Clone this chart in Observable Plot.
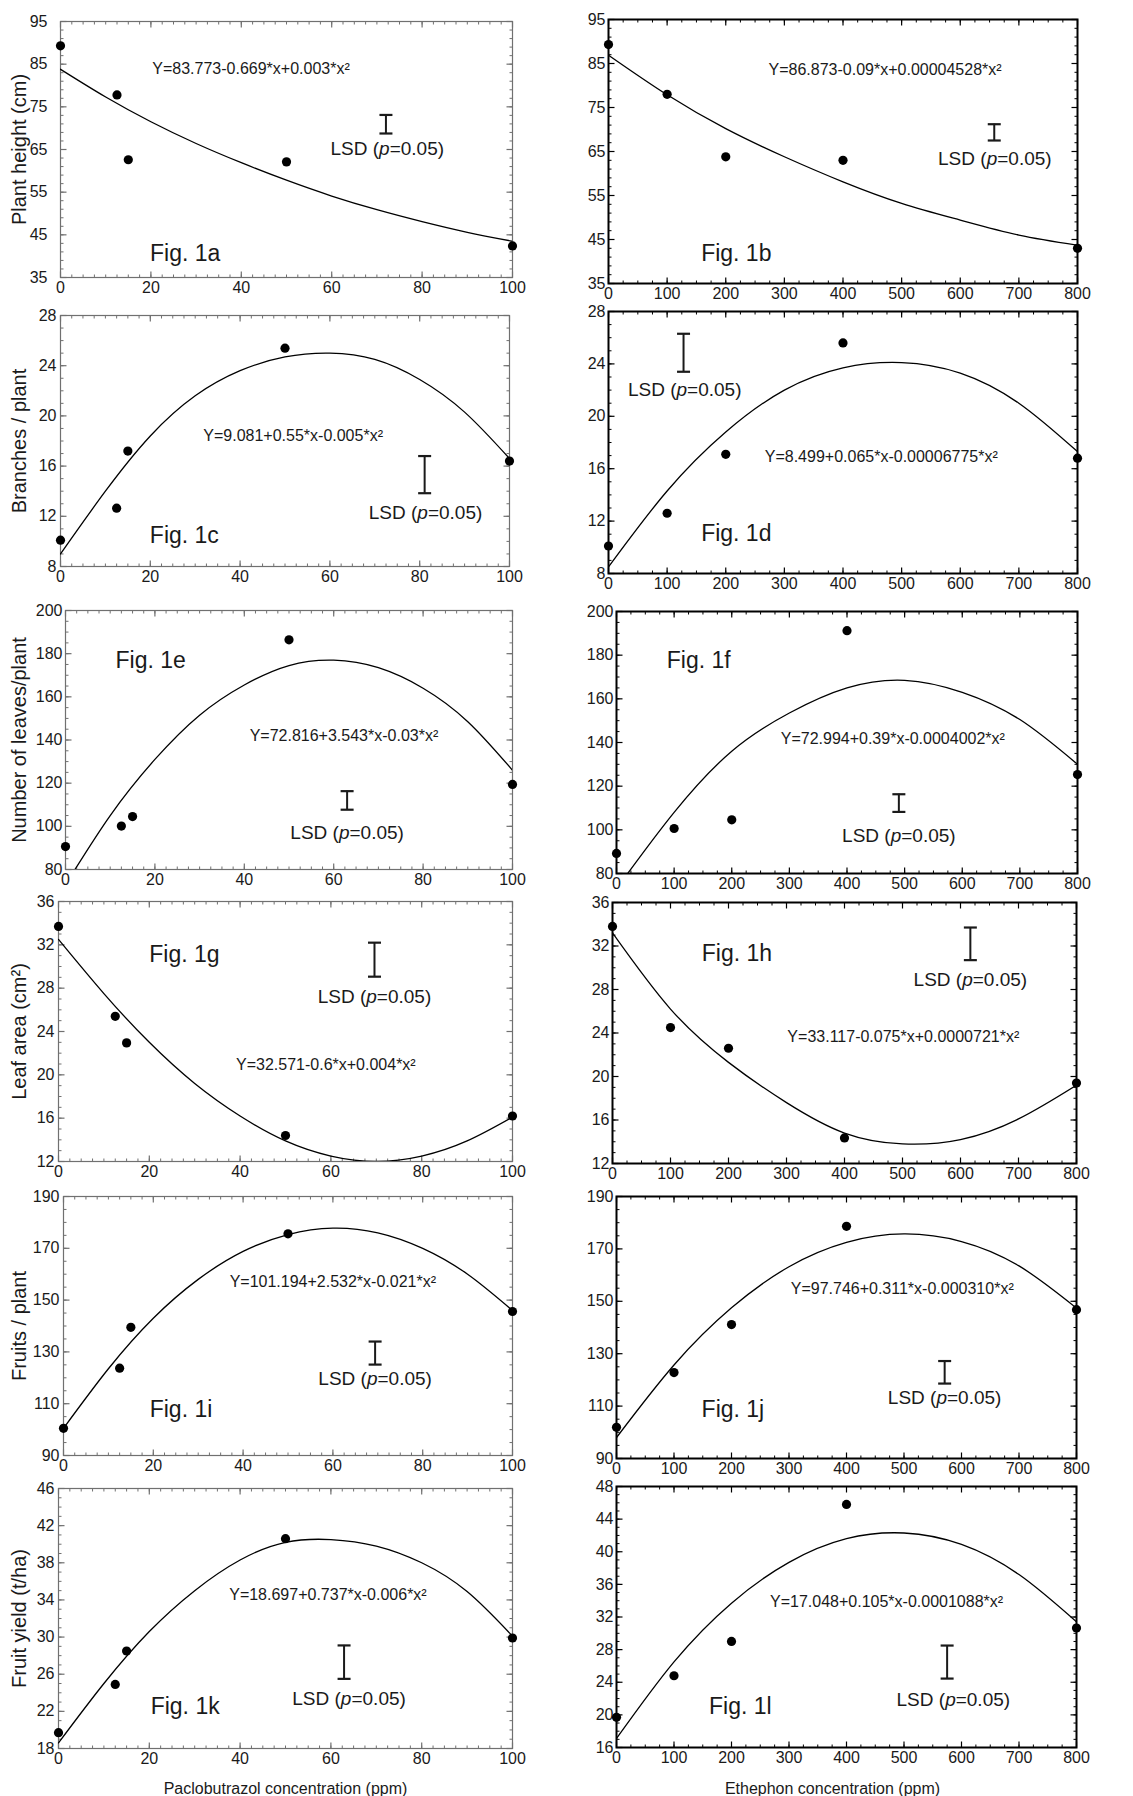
<!DOCTYPE html>
<html><head><meta charset="utf-8">
<script src="https://cdn.jsdelivr.net/npm/d3@7"></script>
<script src="https://cdn.jsdelivr.net/npm/@observablehq/plot@0.6"></script>
<style>
body{margin:0;background:#fff;}
#root{position:relative;width:1133px;height:1796px;overflow:hidden;}
.panel{position:absolute;}
</style></head><body><div id="root"></div>
<script>
// ---------- DATA ----------
const pacloX = [0, 12.5, 15, 50, 100];
const etheX = [0, 100, 200, 400, 800];
const pacloCurveX = [0, 10, 20, 30, 40, 50, 60, 70, 80, 90, 100];
const etheCurveX = [0, 100, 200, 300, 400, 500, 600, 700, 800];
const pacloTicks = [0, 20, 40, 60, 80, 100];
const etheTicks = [0, 100, 200, 300, 400, 500, 600, 700, 800];

// observed means
const heightPaclo = [89.3, 77.8, 62.6, 62.1, 42.4];
const heightEthe = [89.3, 78.0, 63.8, 63.0, 43.0];
const branchesPaclo = [10.1, 12.65, 17.2, 25.4, 16.4];
const branchesEthe = [10.1, 12.6, 17.1, 25.6, 16.8];
const leavesPaclo = [90.6, 100.1, 104.5, 186.4, 119.4];
const leavesEthe = [89.2, 100.6, 104.6, 191.2, 125.3];
const leafAreaPaclo = [33.7, 25.4, 22.95, 14.4, 16.2];
const leafAreaEthe = [33.8, 24.5, 22.6, 14.35, 19.4];
const fruitsPaclo = [100.5, 123.7, 139.5, 175.6, 145.6];
const fruitsEthe = [101.9, 122.8, 141.1, 178.6, 146.8];
const yieldPaclo = [19.7, 24.9, 28.5, 40.6, 29.9];
const yieldEthe = [19.7, 24.8, 29.0, 45.8, 30.65];

// fitted curves
const heightPacloFit = [83.8, 77.3, 71.5, 66.4, 61.9, 57.8, 54.1, 50.9, 48.1, 45.6, 43.5];
const heightEtheFit = [86.9, 77.9, 70.2, 63.8, 58.1, 53.2, 49.4, 46.0, 43.7];
const branchesPacloFit = [9.0, 14.0, 18.4, 21.6, 23.6, 24.7, 25.0, 24.5, 22.9, 20.3, 16.6];
const branchesEtheFit = [8.5, 14.3, 18.8, 22.0, 23.7, 24.1, 23.3, 21.0, 17.3];
const leavesPacloFit = [73, 105, 131, 151.5, 165.5, 174.5, 177, 173.5, 164, 148.5, 126];
const leavesEtheFit = [73, 108, 136, 153.5, 165, 168.5, 163, 150.5, 130];
const leafAreaPacloFit = [32.5, 27.5, 23.0, 19.2, 16.2, 13.9, 12.5, 12.0, 12.5, 13.9, 16.1];
const leafAreaEtheFit = [33.2, 26.2, 21.3, 17.6, 14.8, 13.8, 14.2, 16.1, 19.2];
const fruitsPacloFit = [100.5, 123.5, 143, 158, 168.8, 175.3, 177.8, 176, 170, 160, 146];
const fruitsEtheFit = [98, 125.7, 147.5, 163.2, 172.5, 175.7, 172.8, 163.5, 147.4];
const yieldPacloFit = [18.6, 25.0, 30.6, 35.0, 38.3, 40.2, 40.5, 39.8, 38.0, 34.9, 30.1];
const yieldEtheFit = [17.1, 26.5, 33.7, 38.7, 41.6, 42.3, 40.9, 37.2, 31.4];

// LSD (p=0.05) bars: [low, high]
const lsdLow = [68.75, 67.5, 13.84, 23.4, 107.7, 108.2, 29.06, 30.7, 125.1, 118.6, 25.5, 24.45];
const lsdHigh = [73.1, 71.2, 16.8, 26.3, 116.3, 116.3, 32.2, 33.7, 134, 127.2, 29.1, 28.5];

// y ticks
const heightTicks = [35, 45, 55, 65, 75, 85, 95];
const branchTicks = [8, 12, 16, 20, 24, 28];
const leavesTicks = [80, 100, 120, 140, 160, 180, 200];
const leafAreaTicks = [12, 16, 20, 24, 28, 32, 36];
const fruitsTicks = [90, 110, 130, 150, 170, 190];
const yieldPacloTicks = [18, 22, 26, 30, 34, 38, 42, 46];
const yieldEtheTicks = [16, 20, 24, 28, 32, 36, 40, 44, 48];

// texts
const yTitles = ["Plant height (cm)", "Branches / plant", "Number of leaves/plant", "Leaf area (cm²)", "Fruits / plant", "Fruit yield (t/ha)"];
const xTitles = ["Paclobutrazol concentration (ppm)", "Ethephon concentration (ppm)"];
const figLabels = ["Fig. 1a","Fig. 1b","Fig. 1c","Fig. 1d","Fig. 1e","Fig. 1f","Fig. 1g","Fig. 1h","Fig. 1i","Fig. 1j","Fig. 1k","Fig. 1l"];
const equations = [
  "Y=83.773-0.669*x+0.003*x²",
  "Y=86.873-0.09*x+0.00004528*x²",
  "Y=9.081+0.55*x-0.005*x²",
  "Y=8.499+0.065*x-0.00006775*x²",
  "Y=72.816+3.543*x-0.03*x²",
  "Y=72.994+0.39*x-0.0004002*x²",
  "Y=32.571-0.6*x+0.004*x²",
  "Y=33.117-0.075*x+0.0000721*x²",
  "Y=101.194+2.532*x-0.021*x²",
  "Y=97.746+0.311*x-0.000310*x²",
  "Y=18.697+0.737*x-0.006*x²",
  "Y=17.048+0.105*x-0.0001088*x²"
];
const lsdText = "LSD (p=0.05)";

// ---------- LAYOUT / OPTIONS ----------
const panels = [
  {frame:[60,512,21,277], obs:heightPaclo, fit:heightPacloFit, yDomain:[35,95], yTicks:heightTicks, yMinor:2, yPad:13, eq:[20.3,83.8], lsdX:72, lsdLab:[72.3,65.1], fig:[19.8,40.5]},
  {frame:[608,1077,19,283], obs:heightEthe, fit:heightEtheFit, yDomain:[35,95], yTicks:heightTicks, yMinor:2, eq:[273,83.5], lsdX:658, lsdLab:[659,63.4], fig:[158,41.8]},
  {frame:[60,509,315,566], obs:branchesPaclo, fit:branchesPacloFit, yDomain:[8,28], yTicks:branchTicks, yMinor:1, yPad:4, eq:[31.8,18.4], lsdX:81.1, lsdLab:[81.3,12.3], fig:[19.9,10.5]},
  {frame:[608,1077,311,573], obs:branchesEthe, fit:branchesEtheFit, yDomain:[8,28], yTicks:branchTicks, yMinor:1, eq:[266.5,16.9], lsdX:128, lsdLab:[130,22.0], fig:[158,11.05]},
  {frame:[65,512,610,869], obs:leavesPaclo, fit:leavesPacloFit, yDomain:[80,200], yTicks:leavesTicks, yMinor:5, yPad:3, eq:[41.2,142.1], lsdX:63, lsdLab:[63,97], fig:[11.2,176.8]},
  {frame:[616,1077,611,873], obs:leavesEthe, fit:leavesEtheFit, yDomain:[80,200], yTicks:leavesTicks, yMinor:5, eq:[285,141.5], lsdX:490, lsdLab:[490,97.2], fig:[87.3,177.4]},
  {frame:[58,512,901,1161], obs:leafAreaPaclo, fit:leafAreaPacloFit, yDomain:[12,36], yTicks:leafAreaTicks, yMinor:1, yPad:4, eq:[39.1,20.9], lsdX:69.6, lsdLab:[69.6,27.15], fig:[20,31.1]},
  {frame:[612,1076,902,1163], obs:leafAreaEthe, fit:leafAreaEtheFit, yDomain:[12,36], yTicks:leafAreaTicks, yMinor:1, eq:[301.5,23.6], lsdX:617, lsdLab:[617,28.9], fig:[154,31.3]},
  {frame:[63,512,1196,1455], obs:fruitsPaclo, fit:fruitsPacloFit, yDomain:[90,190], yTicks:fruitsTicks, yMinor:5, yPad:4, eq:[37,156.9], lsdX:69.4, lsdLab:[69.4,119.6], fig:[19.2,107.6]},
  {frame:[616,1076,1196,1458], obs:fruitsEthe, fit:fruitsEtheFit, yDomain:[90,190], yTicks:fruitsTicks, yMinor:5, eq:[303,154.8], lsdX:570.7, lsdLab:[570.7,113.1], fig:[148,108.7]},
  {frame:[58,512,1488,1748], obs:yieldPaclo, fit:yieldPacloFit, yDomain:[18,46], yTicks:yieldPacloTicks, yMinor:1, yPad:4, eq:[37.6,34.5], lsdX:62.9, lsdLab:[64,23.3], fig:[20.3,22.5], xTitleDx:0, xTitleDy:40},
  {frame:[616,1076,1486,1747], obs:yieldEthe, fit:yieldEtheFit, yDomain:[16,48], yTicks:yieldEtheTicks, yMinor:1, eq:[267,33.8], lsdX:575, lsdLab:[585.8,21.8], fig:[161,21], xTitleDx:-14, xTitleDy:41}
];

const FONT = '"Liberation Sans", Arial, Helvetica, sans-serif';
const lineSym = (dx, dy) => ({draw(ctx, size) { const r = Math.sqrt(size / Math.PI); ctx.moveTo(0, 0); ctx.lineTo(dx * r, dy * r); }});
const tickUp = lineSym(0, -1), tickDown = lineSym(0, 1), tickRight = lineSym(1, 0), tickLeft = lineSym(-1, 0);
const capSym = {draw(ctx, size) { const r = Math.sqrt(size / Math.PI); ctx.moveTo(-r, 0); ctx.lineTo(r, 0); }};

const root = document.getElementById("root");

panels.forEach((p, i) => {
  const col = i % 2, row = Math.floor(i / 2);
  const left = col === 0;
  const last = row === 5;
  const [fl, fr, ft, fb] = p.frame;
  const xs = left ? pacloX : etheX;
  const cxs = left ? pacloCurveX : etheCurveX;
  const xDomain = left ? [0, 100] : [0, 800];
  const xTicks = left ? pacloTicks : etheTicks;
  const xMinor = left ? 2.5 : 25;
  const mL = left ? fl : 40, mR = 20, mT = 12, mB = last ? 52 : 26;
  const width = mL + (fr - fl) + mR;
  const height = mT + (fb - ft) + mB;
  const frameColor = left ? "#707070" : "#000";
  const frameW = left ? 1.2 : 2;
  const minorXs = d3.range(xDomain[0], xDomain[1] + 1e-9, xMinor);
  const minorYs = d3.range(p.yDomain[0], p.yDomain[1] + 1e-9, p.yMinor);

  const obsRows = xs.map((x, k) => ({x, y: p.obs[k]}));
  const fitRows = cxs.map((x, k) => ({x, y: p.fit[k]}));
  const lsd = {x: p.lsdX, lo: lsdLow[i], hi: lsdHigh[i]};

  const marks = [
    Plot.frame({stroke: frameColor, strokeWidth: frameW}),
    // minor ticks (inward)
    Plot.dot(minorXs, {x: d => d, frameAnchor: "bottom", symbol: tickUp, r: 3, stroke: frameColor, strokeWidth: 1}),
    Plot.dot(minorXs, {x: d => d, frameAnchor: "top", symbol: tickDown, r: 3, stroke: frameColor, strokeWidth: 1}),
    Plot.dot(minorYs, {y: d => d, frameAnchor: "left", symbol: tickRight, r: 3, stroke: frameColor, strokeWidth: 1}),
    Plot.dot(minorYs, {y: d => d, frameAnchor: "right", symbol: tickLeft, r: 3, stroke: frameColor, strokeWidth: 1}),
    // major ticks (inward)
    Plot.dot(xTicks, {x: d => d, frameAnchor: "bottom", symbol: tickUp, r: 6, stroke: frameColor, strokeWidth: 1.2}),
    Plot.dot(xTicks, {x: d => d, frameAnchor: "top", symbol: tickDown, r: 6, stroke: frameColor, strokeWidth: 1.2}),
    Plot.dot(p.yTicks, {y: d => d, frameAnchor: "left", symbol: tickRight, r: 6, stroke: frameColor, strokeWidth: 1.2}),
    Plot.dot(p.yTicks, {y: d => d, frameAnchor: "right", symbol: tickLeft, r: 6, stroke: frameColor, strokeWidth: 1.2}),
    Plot.axisX({ticks: xTicks, tickSize: 0, tickPadding: 4, label: null, fill: "#1a1a1a"}),
    Plot.axisY({ticks: p.yTicks, tickSize: 0, tickPadding: left ? p.yPad : 3, label: null, fill: "#1a1a1a"}),
    Plot.line(fitRows, {x: "x", y: "y", curve: "natural", stroke: "#000", strokeWidth: 1.3, clip: true}),
    Plot.dot(obsRows, {x: "x", y: "y", r: 4.6, fill: "#000"}),
    Plot.ruleX([lsd], {x: "x", y1: "lo", y2: "hi", stroke: "#1a1a1a", strokeWidth: 2}),
    Plot.dot([lsd], {x: "x", y: "lo", symbol: capSym, r: 6.5, stroke: "#1a1a1a", strokeWidth: 2.2}),
    Plot.dot([lsd], {x: "x", y: "hi", symbol: capSym, r: 6.5, stroke: "#1a1a1a", strokeWidth: 2.2}),
    Plot.text([equations[i]], {x: p.eq[0], y: p.eq[1], text: d => d, textAnchor: "start", fontSize: 16, fill: "#1a1a1a"}),
    Plot.text([lsdText], {x: p.lsdLab[0], y: p.lsdLab[1], text: d => d, fontSize: 19, fill: "#1a1a1a"}),
    Plot.text([figLabels[i]], {x: p.fig[0], y: p.fig[1], text: d => d, textAnchor: "start", fontSize: 23, fill: "#1a1a1a"})
  ];
  if (left) marks.push(Plot.text([yTitles[row]], {frameAnchor: "left", rotate: -90, textAnchor: "middle", lineAnchor: "middle", dx: 19 - fl, text: d => d, fontSize: 20, fill: "#1a1a1a"}));
  if (last) marks.push(Plot.text([xTitles[col]], {frameAnchor: "bottom", textAnchor: "middle", lineAnchor: "middle", dx: p.xTitleDx, dy: p.xTitleDy, text: d => d, fontSize: 16, fill: "#1a1a1a"}));

  const svg = Plot.plot({
    width, height,
    marginLeft: mL, marginRight: mR, marginTop: mT, marginBottom: mB,
    style: {fontFamily: FONT, fontSize: "16px", background: "transparent", overflow: "visible"},
    x: {domain: xDomain},
    y: {domain: p.yDomain},
    marks
  });

  // italic p in the LSD label
  svg.querySelectorAll("text").forEach(t => {
    if (t.textContent === lsdText) {
      const ns = "http://www.w3.org/2000/svg";
      while (t.firstChild) t.removeChild(t.firstChild);
      t.appendChild(document.createTextNode("LSD ("));
      const ts = document.createElementNS(ns, "tspan");
      ts.setAttribute("font-style", "italic");
      ts.textContent = "p";
      t.appendChild(ts);
      t.appendChild(document.createTextNode("=0.05)"));
    }
  });

  const div = document.createElement("div");
  div.className = "panel";
  div.style.left = (fl - mL) + "px";
  div.style.top = (ft - mT) + "px";
  div.appendChild(svg);
  root.appendChild(div);
});
</script>
</body></html>
